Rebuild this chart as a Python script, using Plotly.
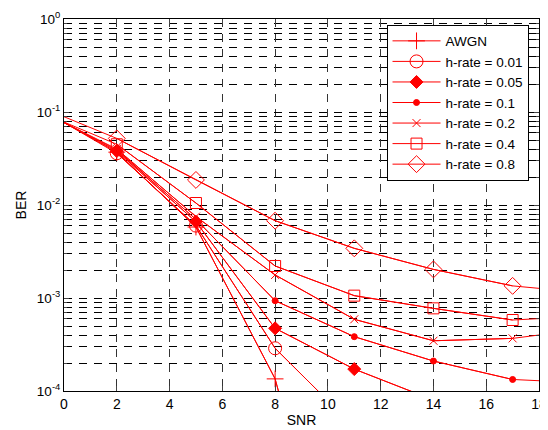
import plotly.graph_objects as go

# ---- data ----
SNR = [0, 2, 5, 8, 11, 14, 17, 18]
series_names = ["AWGN", "h-rate = 0.01", "h-rate = 0.05", "h-rate = 0.1",
                "h-rate = 0.2", "h-rate = 0.4", "h-rate = 0.8"]
awgn = [0.077, 0.037, 5.8e-3, 1.35e-4, 1e-7, None, None, None]
h001 = [0.077, 0.036, 6.0e-3, 2.88e-4, 4.1e-5, None, None, None]
h005 = [0.077, 0.038, 6.6e-3, 4.72e-4, 1.72e-4, 8.0e-5, None, None]
h01 = [0.077, 0.039, 7.0e-3, 9.35e-4, 3.84e-4, 2.1e-4, 1.33e-4, 1.29e-4]
h02 = [0.077, 0.040, 7.5e-3, 1.77e-3, 5.9e-4, 3.47e-4, 3.68e-4, 4.0e-4]
h04 = [0.078, 0.045, 1.05e-2, 2.21e-3, 1.06e-3, 7.74e-4, 5.8e-4, 6.0e-4]
h08 = [0.089, 0.052, 1.86e-2, 6.78e-3, 3.42e-3, 2.03e-3, 1.35e-3, 1.27e-3]

x_ticks = [0, 2, 4, 6, 8, 10, 12, 14, 16, 18]
y_ticks = [1e-4, 1e-3, 1e-2, 1e-1, 1]
y_ticktext = ["10<sup>-4</sup>", "10<sup>-3</sup>", "10<sup>-2</sup>",
              "10<sup>-1</sup>", "10<sup>0</sup>"]

all_series = [awgn, h001, h005, h01, h02, h04, h08]
symbols = ["cross-thin-open", "circle-open", "diamond", "circle",
           "x-thin-open", "square-open", "diamond-open"]
sizes = [12, 13, 10, 6, 8, 11, 13]

RED = "#ff0000"
FONT = "Liberation Sans, Arial, sans-serif"

fig = go.Figure()
for name, vals, sym, sz in zip(series_names, all_series, symbols, sizes):
    fig.add_trace(go.Scatter(
        x=SNR, y=vals, mode="lines", showlegend=False, hoverinfo="skip",
        line=dict(color=RED, width=1)))
    fig.add_trace(go.Scatter(
        x=SNR[1:7], y=vals[1:7], mode="lines+markers", name=name,
        line=dict(color=RED, width=1),
        marker=dict(symbol=sym, size=sz, color=RED,
                    line=dict(color=RED, width=1))))

minor_vals = [m * 10 ** e for e in range(-4, 0) for m in range(2, 10)]
DASH = "8px,7px"

# page body has an 8px margin, so the figure is sized to end at the window edge
fig.update_layout(
    width=540, height=422,
    margin=dict(l=56, r=9, t=11, b=39, autoexpand=False),
    paper_bgcolor="white", plot_bgcolor="white",
    font=dict(family=FONT, size=14, color="black"),
    showlegend=True,
    legend=dict(x=0.679, y=0.985, xanchor="left", yanchor="top",
                bgcolor="white", bordercolor="black", borderwidth=1,
                font=dict(size=13.5), itemwidth=48, tracegroupgap=0),
    xaxis=dict(range=[0, 18], tickvals=x_ticks, ticks="inside", ticklen=5,
               automargin=False, ticklabeloverflow="allow",
               showline=True, linecolor="black", linewidth=1, mirror="allticks",
               showgrid=True, gridcolor="#333333", gridwidth=1, griddash=DASH,
               zeroline=False, tickfont=dict(size=14),
               title=dict(text="SNR", standoff=4, font=dict(size=14))),
    yaxis=dict(type="log", range=[-4, 0], tickvals=y_ticks, ticktext=y_ticktext,
               ticks="inside", ticklen=5, automargin=False,
               ticklabeloverflow="allow",
               showline=True, linecolor="black", linewidth=1, mirror="allticks",
               showgrid=True, gridcolor="black", gridwidth=1, griddash=DASH,
               zeroline=False, tickfont=dict(size=13.5),
               minor=dict(tickmode="array", tickvals=minor_vals, ticks="inside",
                          ticklen=3, showgrid=True, gridcolor="black",
                          gridwidth=1, griddash=DASH),
               title=dict(text="BER", standoff=6, font=dict(size=14))),
)

fig.write_html("out.html")
